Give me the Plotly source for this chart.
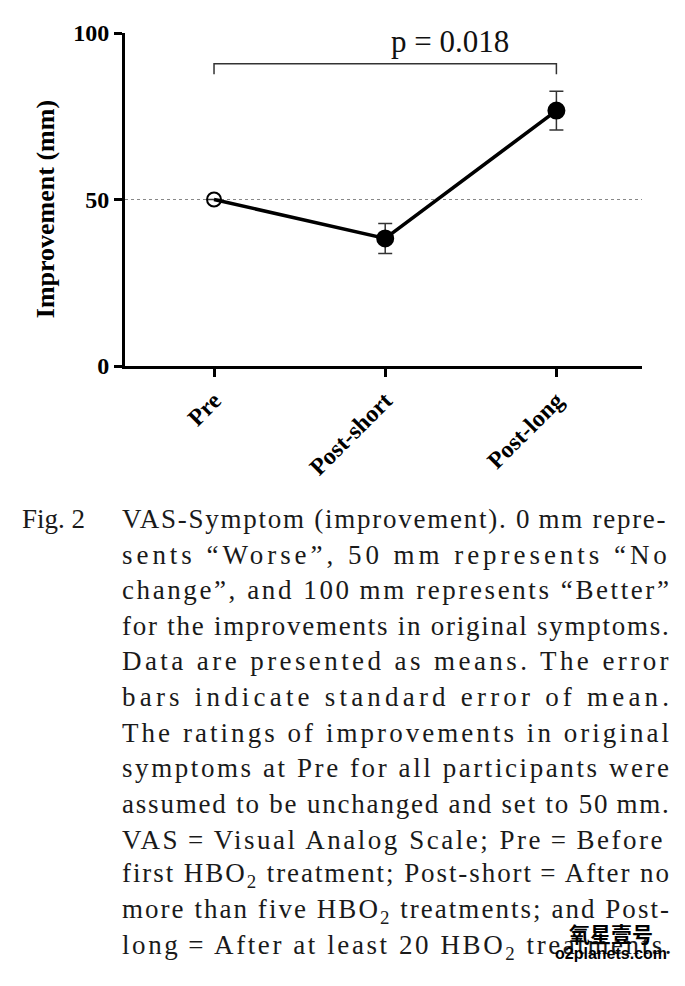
import plotly.graph_objects as go

# ---------------- data ----------------
categories = ["Pre", "Post-short", "Post-long"]
means = [50.0, 38.3, 76.7]
sem = [0.0, 4.5, 5.8]
marker_open = [True, False, False]
y_ticks = [0, 50, 100]
y_title = "Improvement (mm)"
p_label = "p = 0.018"
bracket_y = 90.8
bracket_drop = 3.2
reference_level = 50

caption_lead = "Fig. 2"
caption_lines = [
    "VAS-Symptom (improvement). 0\u2009mm repre-",
    "sents \u201cWorse\u201d, 50 mm represents \u201cNo",
    "change\u201d, and 100\u2009mm represents \u201cBetter\u201d",
    "for the improvements in original symptoms.",
    "Data are presented as means. The error",
    "bars indicate standard error of mean.",
    "The ratings of improvements in original",
    "symptoms at Pre for all participants were",
    "assumed to be unchanged and set to 50\u2009mm.",
    "VAS\u2009=\u2009Visual Analog Scale; Pre\u2009=\u2009Before",
    "first HBO\u2082 treatment; Post-short\u2009=\u2009After no",
    "more than five HBO\u2082 treatments; and Post-",
    "long\u2009=\u2009After at least 20 HBO\u2082 treatments.",
]
watermark = ["氧星壹号", "o2planets.com"]

# ---------------- layout helpers ----------------
OFF = 8  # page body margin
W, H = 685 - OFF, 986 - OFF
L, T = 125 - OFF, 24 - OFF
R = W - (642 - OFF)
B = H - (366 - OFF)
PW, PH = W - L - R, H - T - B


def px(x):
    return (x - OFF - L) / PW


def py(y):
    return 1 - (y - OFF - T) / PH


TIMES = {' ': 250, '(': 333, ')': 333, ',': 250, '-': 333, '.': 250, ';': 278,
         ':': 278, '=': 564, '\u201c': 444, '\u201d': 444, '\u2009': 200, '\u2082': 350}
for c in "0123456789":
    TIMES[c] = 500
for c, w in zip("ABCDEFGHIJKLMNOPQRSTUVWXYZ",
                [722, 667, 667, 722, 611, 556, 722, 722, 333, 389, 722, 611, 889,
                 722, 722, 556, 722, 667, 556, 611, 722, 722, 944, 722, 722, 611]):
    TIMES[c] = w
for c, w in zip("abcdefghijklmnopqrstuvwxyz",
                [444, 500, 444, 500, 444, 333, 500, 500, 278, 278, 500, 278, 778,
                 500, 500, 500, 500, 333, 389, 278, 500, 500, 722, 500, 500, 444]):
    TIMES[c] = w

CAP_SIZE = 27
CAP_LEFT = 122
CAP_RIGHT = 669
CAP_Y0 = 523
CAP_DY = 36.6


def natural_width(s, size):
    return sum(TIMES.get(c, 500) for c in s) * size / 1000


def to_html(s):
    return s.replace("\u2082", "<sub>2</sub>")


# ---------------- figure ----------------
fig = go.Figure()

# bracket
fig.add_trace(go.Scatter(
    x=[categories[0], categories[0], categories[2], categories[2]],
    y=[bracket_y - bracket_drop, bracket_y, bracket_y, bracket_y - bracket_drop],
    mode="lines", line=dict(color="#333333", width=1.5),
    hoverinfo="skip", showlegend=False, cliponaxis=False))

# error bars (beneath markers)
fig.add_trace(go.Scatter(
    x=categories, y=means, mode="markers",
    marker=dict(size=1, color="rgba(0,0,0,0)"),
    error_y=dict(type="data", array=sem, visible=True, color="#333333",
                 thickness=1.5, width=7),
    hoverinfo="skip", showlegend=False, cliponaxis=False))

# main series
fig.add_trace(go.Scatter(
    x=categories, y=means, mode="lines+markers",
    line=dict(color="black", width=3.5),
    marker=dict(
        symbol=["circle-open" if o else "circle" for o in marker_open],
        size=[14 if o else 16 for o in marker_open],
        color="#000000", opacity=1, line=dict(color="#000000", width=2)),
    showlegend=False, cliponaxis=False))

fig.add_shape(type="line", xref="paper", x0=0, x1=1, yref="y",
              y0=reference_level, y1=reference_level,
              line=dict(color="#888888", width=1, dash="dot"), layer="below")

ann = []
ann.append(dict(x=1.38, y=97.5, xref="x", yref="y", text=p_label, showarrow=False,
                font=dict(family="Liberation Serif", size=31, color="#111111"),
                xanchor="center", yanchor="middle"))
ann.append(dict(x=px(45), y=py(205), xref="paper", yref="paper", text=y_title,
                showarrow=False, textangle=-90,
                font=dict(family="Liberation Serif", size=26, color="black", weight="bold"),
                xanchor="center", yanchor="middle"))

# caption
ann.append(dict(x=px(20), y=py(CAP_Y0), xref="paper", yref="paper", text=caption_lead,
                showarrow=False, xanchor="left", yanchor="middle",
                font=dict(family="Liberation Serif", size=CAP_SIZE, color="#1a1a1a")))
target = CAP_RIGHT - CAP_LEFT
spacings = []
for i, line in enumerate(caption_lines[:-1]):
    nat = natural_width(line, CAP_SIZE)
    spacings.append((target - nat) / (len(line) - 1))
spacings_sorted = sorted(spacings)
spacings.append(spacings_sorted[len(spacings_sorted) // 2])
for i, line in enumerate(caption_lines):
    ls = spacings[i]
    ann.append(dict(
        x=px(CAP_LEFT - 2), y=py(CAP_Y0 + CAP_DY * i), xref="paper", yref="paper",
        text=f'<span style="letter-spacing:{ls:.2f}px">{to_html(line)}</span>',
        showarrow=False, xanchor="left", yanchor="middle",
        font=dict(family="Liberation Serif", size=CAP_SIZE, color="#1a1a1a")))

# watermark
fig.add_shape(type="rect", xref="paper", yref="paper",
              x0=px(556), x1=px(664), y0=py(934), y1=py(984),
              fillcolor="rgba(255,255,255,0.92)", line=dict(width=0), layer="above")
ann.append(dict(x=px(611), y=py(948), xref="paper", yref="paper", text=watermark[0],
                showarrow=False, xanchor="center", yanchor="middle",
                font=dict(family="Noto Sans CJK SC", size=21, color="black", weight="bold")))
ann.append(dict(x=px(611), y=py(969), xref="paper", yref="paper", text=watermark[1],
                showarrow=False, xanchor="center", yanchor="middle",
                font=dict(family="Liberation Sans", size=16, color="black", weight="bold")))

fig.update_layout(
    width=W, height=H, margin=dict(l=L, r=R, t=T, b=B),
    paper_bgcolor="white", plot_bgcolor="white",
    annotations=ann,
    xaxis=dict(type="category", categoryorder="array", categoryarray=categories,
               range=[-0.52, 2.5], showgrid=False, zeroline=False,
               showline=True, linecolor="black", linewidth=3,
               ticks="outside", ticklen=8, tickwidth=2.5, tickcolor="black",
               tickangle=-45,
               tickfont=dict(family="Liberation Serif", size=24, color="black", weight="bold")),
    yaxis=dict(range=[0, 100], tickvals=y_ticks, showgrid=False, zeroline=False,
               showline=True, linecolor="black", linewidth=3,
               ticks="outside", ticklen=8, tickwidth=2.5, tickcolor="black",
               tickfont=dict(family="Liberation Serif", size=24, color="black", weight="bold")),
)

fig.write_html("out.html")
